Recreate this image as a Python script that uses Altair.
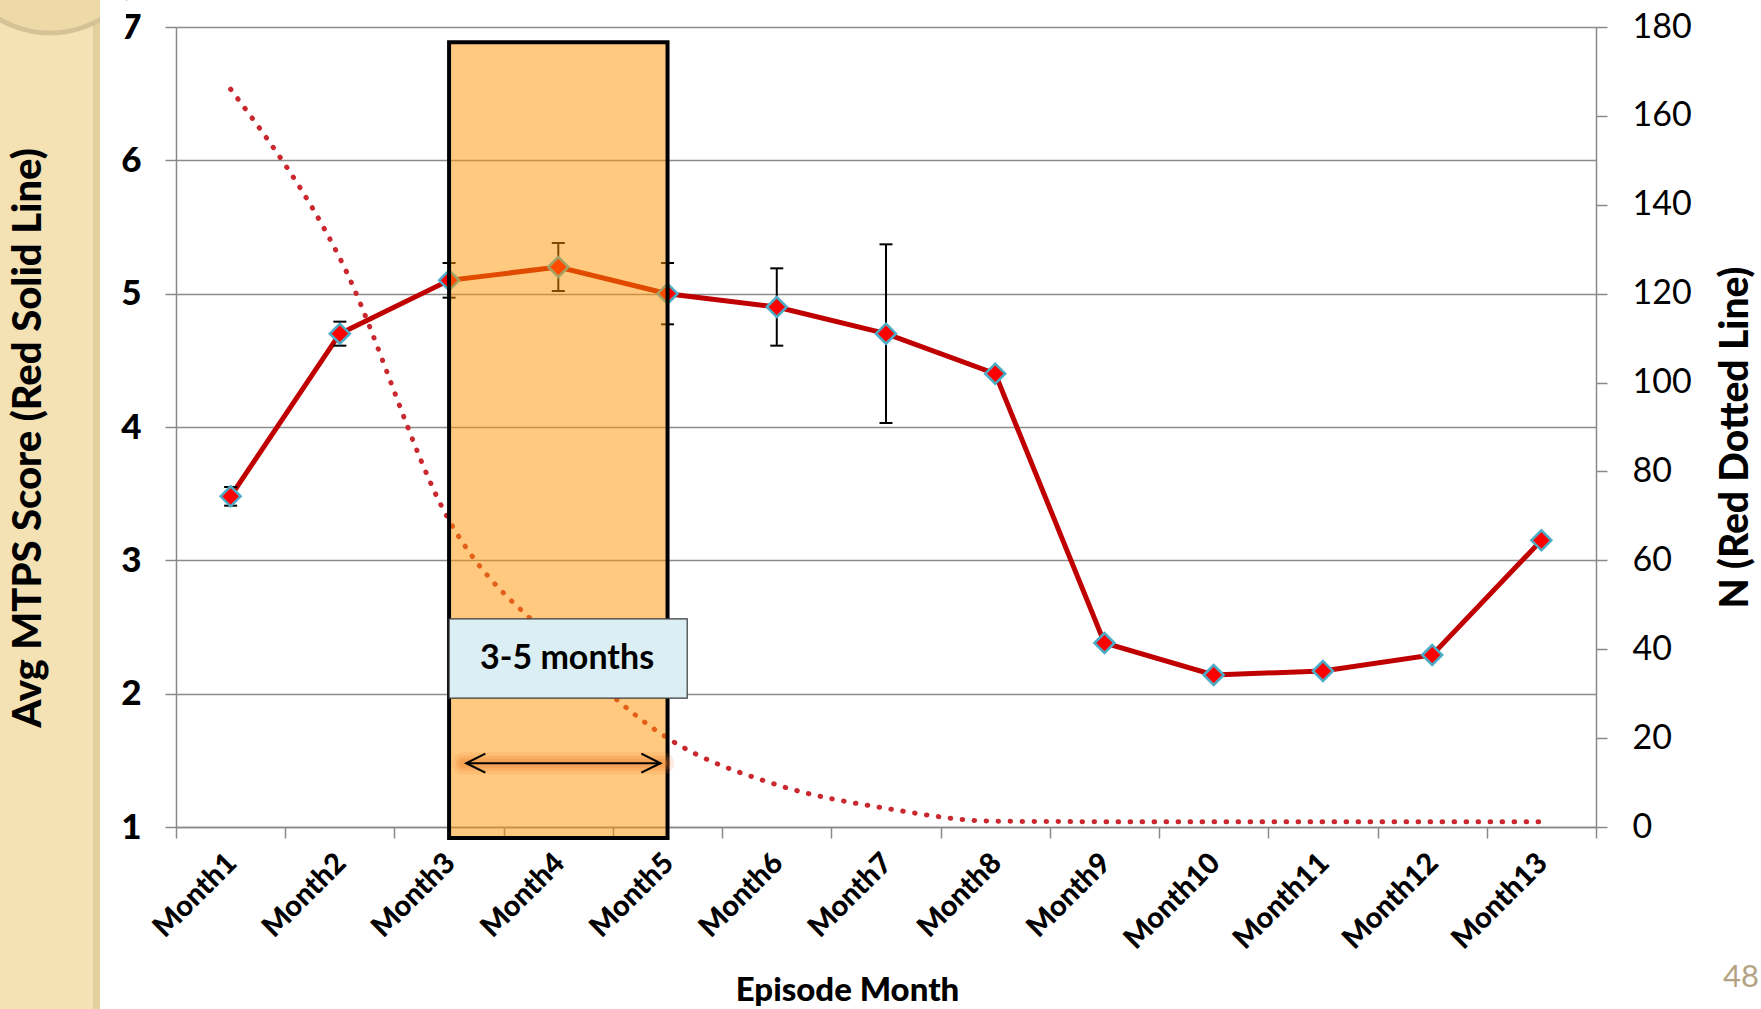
import altair as alt
import pandas as pd

# ---- data -------------------------------------------------------------
months = ["Month1", "Month2", "Month3", "Month4", "Month5", "Month6", "Month7",
          "Month8", "Month9", "Month10", "Month11", "Month12", "Month13"]
avg_score = [3.48, 4.70, 5.10, 5.20, 5.00, 4.90, 4.70, 4.40, 2.38, 2.14, 2.17, 2.29, 3.15]
score_err = [0.07, 0.09, 0.13, 0.18, 0.23, 0.29, 0.67, None, None, None, None, None, None]
n_count = [166, 128, 69, 41, 20, 9.5, 4.2, 1.3, 1.2, 1.2, 1.2, 1.2, 1.2]

# highlighted window (months 3-5) and its label
window_months = [3, 5]
window_label = "3-5 months"

left_title = "Avg MTPS Score (Red Solid Line)"
right_title = "N (Red Dotted Line)"
x_title = "Episode Month"
page_number = "48"

# ---- layout -----------------------------------------------------------
W, H = 1420, 800
PAD = {"left": 176, "top": 27, "right": 165, "bottom": 182}
STEP = W / len(months)
FONT = "Lato"
AXIS_GRAY = "#898989"

idx = list(range(1, len(months) + 1))
df = pd.DataFrame({"m": idx, "month": months, "score": avg_score, "n": n_count})
err_df = pd.DataFrame({
    "m": [i for i, e in zip(idx, score_err) if e is not None],
    "lo": [s - e for s, e in zip(avg_score, score_err) if e is not None],
    "hi": [s + e for s, e in zip(avg_score, score_err) if e is not None],
})

# ---- scales and axes --------------------------------------------------
xs = alt.Scale(domain=[0.5, len(months) + 0.5], nice=False, zero=False)
label_array = "[" + ",".join(["''"] + ["'" + m + "'" for m in months]) + "]"
x_axis = alt.Axis(
    values=[i + 0.5 for i in range(len(months) + 1)],
    labelExpr=label_array + "[datum.value - 0.5]",
    labelOffset=-STEP / 2 + 1, labelAngle=315, labelAlign="right",
    labelBaseline="middle", labelPadding=20, labelFont=FONT,
    labelFontWeight=900, labelFontSize=29, labelColor="black",
    labelOverlap=False, labelFlush=False,
    tickSize=11, tickColor=AXIS_GRAY, tickWidth=1.5,
    domainColor=AXIS_GRAY, domainWidth=1.5, grid=False,
    title=x_title, titleFont=FONT, titleFontSize=33,
    titleFontWeight=900, titleColor="black",
    titleX=671, titleY=173, titleAlign="center", titleBaseline="alphabetic",
)

ys_left = alt.Scale(domain=[1, 7], nice=False, zero=False)
y_left_axis = alt.Axis(
    orient="left", values=list(range(1, 8)), format="d",
    grid=True, gridColor="#8c8c8c", gridWidth=1.5,
    tickSize=11, tickColor=AXIS_GRAY, tickWidth=1.5,
    domainColor=AXIS_GRAY, domainWidth=1.5,
    labelFont=FONT, labelFontWeight=900, labelFontSize=35,
    labelColor="black", labelPadding=24, title=None,
)

ys_right = alt.Scale(domain=[0, 180], nice=False, zero=True)
y_right_axis = alt.Axis(
    orient="right", values=list(range(0, 181, 20)), format="d", grid=False,
    tickSize=11, tickColor=AXIS_GRAY, tickWidth=1.5,
    domainColor=AXIS_GRAY, domainWidth=1.5,
    labelFont=FONT, labelFontSize=34, labelColor="black",
    labelPadding=25, labelAlign="left",
    title=right_title, titleFont=FONT, titleFontSize=39,
    titleFontWeight=900, titleColor="black", titleAngle=270,
    titleX=139, titleY=410, titleAlign="center", titleBaseline="middle",
)

X = alt.X("m:Q", scale=xs, axis=x_axis)


def yl(field):
    return alt.Y(field, type="quantitative", scale=ys_left, axis=y_left_axis)


# ---- slide decoration (drawn first): side strip, corner disc, y title --
one = pd.DataFrame({"k": [0]})
strip = alt.Chart(one).mark_rect(fill="#f4e2b4").encode(
    x=alt.value(-PAD["left"]), x2=alt.value(-76),
    y=alt.value(-PAD["top"]), y2=alt.value(H + PAD["bottom"]))
strip_edge = alt.Chart(one).mark_rect(fill="#e4cf9f").encode(
    x=alt.value(-83), x2=alt.value(-76),
    y=alt.value(-PAD["top"]), y2=alt.value(H + PAD["bottom"]))
disc = alt.Chart(one).mark_point(
    shape="circle", filled=True, fill="#eedaa8", stroke="#d5c296",
    strokeWidth=5, size=40000, opacity=1).encode(
    x=alt.value(-126), y=alt.value(-94))
disc_cover = alt.Chart(one).mark_rect(fill="white").encode(
    x=alt.value(-76), x2=alt.value(-50),
    y=alt.value(-PAD["top"]), y2=alt.value(-2))
y_title = alt.Chart(one).mark_text(
    text=left_title, font=FONT, fontSize=40, fontWeight=900, color="black",
    angle=270, align="center", baseline="middle").encode(
    x=alt.value(-147), y=alt.value(411))
decor_group = alt.layer(strip, strip_edge, disc, disc_cover, y_title)

# ---- score series (left axis) -----------------------------------------
base = alt.Chart(df)
score_line = base.mark_line(color="#c00000", strokeWidth=5).encode(x=X, y=yl("score"))
err_rule = alt.Chart(err_df).mark_rule(color="black", strokeWidth=2).encode(
    x=X, y=yl("lo"), y2="hi")
cap_lo = alt.Chart(err_df).mark_tick(color="black", orient="horizontal", size=13,
                                     thickness=2, opacity=1).encode(x=X, y=yl("lo"))
cap_hi = alt.Chart(err_df).mark_tick(color="black", orient="horizontal", size=13,
                                     thickness=2, opacity=1).encode(x=X, y=yl("hi"))
points = base.mark_point(shape="diamond", filled=True, fill="#ff0000",
                         stroke="#4bacc6", strokeWidth=2.5, size=400,
                         opacity=1).encode(x=X, y=yl("score"))
left_group = alt.layer(score_line, err_rule, cap_lo, cap_hi, points)

# ---- N series (right axis) --------------------------------------------
n_line = base.mark_line(color="#c8282e", strokeWidth=5, strokeDash=[0.5, 11.5],
                        strokeCap="round", interpolate="monotone").encode(
    x=X, y=alt.Y("n:Q", scale=ys_right, axis=y_right_axis))

# ---- annotations ------------------------------------------------------
ys_ann = alt.Scale(domain=[1, 7], nice=False, zero=False)


def ya(field):
    return alt.Y(field, type="quantitative", scale=ys_ann, axis=None)


window_df = pd.DataFrame({"m": [window_months[0]], "m2": [window_months[1]],
                          "v": [6.885], "v2": [0.917]})
window_box = alt.Chart(window_df).mark_rect(
    fill="#ff9500", fillOpacity=0.5, stroke="black", strokeWidth=4).encode(
    x=X, x2="m2", y=ya("v"), y2="v2")

label_df = pd.DataFrame({"m": [3.0], "m2": [5.18], "v": [2.561], "v2": [1.966],
                         "mc": [4.08], "vc": [2.262], "t": [window_label]})
label_box = alt.Chart(label_df).mark_rect(
    fill="#dbeef4", stroke="#3a3a3a", strokeWidth=1.2).encode(
    x=X, x2="m2", y=ya("v"), y2="v2")
label_text = alt.Chart(label_df).mark_text(
    font=FONT, fontWeight="bold", fontSize=34, color="black",
    align="center", baseline="middle").encode(
    x=alt.X("mc:Q", scale=xs, axis=x_axis), y=ya("vc"), text="t:N")

arrow_df = pd.DataFrame({"m": [3.158, 4.934], "v": [1.479, 1.479]})
glow_df = pd.DataFrame({"m": [3.13, 4.96], "v": [1.479, 1.479]})
glows = [
    alt.Chart(glow_df).mark_line(color="#ee7a2c", strokeWidth=w, opacity=o,
                                 strokeCap="round").encode(x=X, y=ya("v"))
    for w, o in [(22, 0.15), (15, 0.2), (9, 0.25)]
]
arrow_line = alt.Chart(arrow_df).mark_line(color="black", strokeWidth=2).encode(
    x=X, y=ya("v"))
head_l = alt.Chart(arrow_df.iloc[[0]]).mark_point(
    shape="M 2 -1 L 0 0 L 2 1", filled=False, stroke="black", strokeWidth=2.2,
    size=361, opacity=1).encode(x=X, y=ya("v"))
head_r = alt.Chart(arrow_df.iloc[[1]]).mark_point(
    shape="M -2 -1 L 0 0 L -2 1", filled=False, stroke="black", strokeWidth=2.2,
    size=361, opacity=1).encode(x=X, y=ya("v"))

page_no = alt.Chart(one).mark_text(
    text=page_number, font=FONT, fontSize=31, color="#b3a384",
    align="left", baseline="alphabetic").encode(
    x=alt.value(1547), y=alt.value(960))

ann_group = alt.layer(window_box, label_box, label_text, *glows, arrow_line,
                      head_l, head_r, page_no)

chart = alt.layer(decor_group, left_group, n_line, ann_group).resolve_scale(
    y="independent"
).properties(
    width=W, height=H, padding=PAD,
    autosize=alt.AutoSizeParams(type="none"),
    background="white",
).configure_view(stroke=None)

chart.save("out.html", embed_options={"renderer": "svg", "actions": False})
